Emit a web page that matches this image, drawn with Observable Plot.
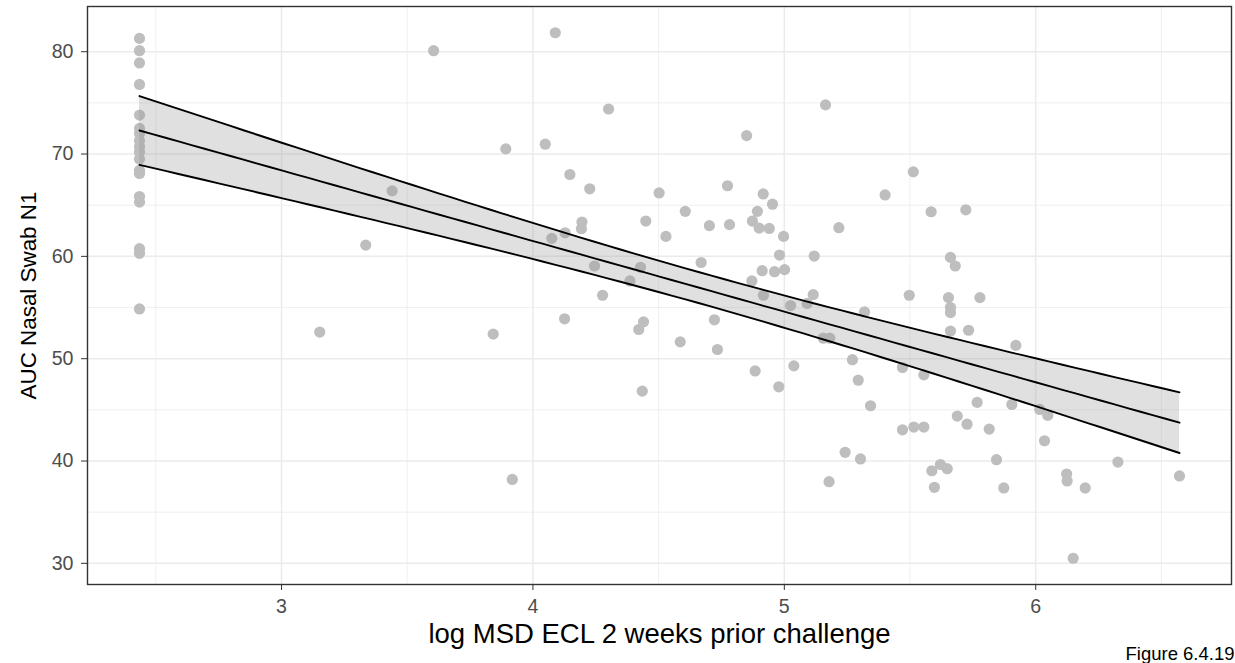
<!DOCTYPE html>
<html>
<head>
<meta charset="utf-8">
<script src="https://cdn.jsdelivr.net/npm/d3@7"></script>
<script src="https://cdn.jsdelivr.net/npm/@observablehq/plot@0.6"></script>
<style>
  html, body { margin: 0; padding: 0; background: #fff; }
  #chart { width: 1235px; height: 663px; overflow: hidden; }
</style>
</head>
<body>
<div id="chart"></div>
<script>
// log MSD ECL 2 weeks prior challenge (x) and AUC Nasal Swab N1 (y)
const xValues = [
  2.435, 2.435, 2.435, 2.435, 2.435, 2.435, 2.435, 2.435, 2.435,
  2.435, 2.435, 2.435, 2.435, 2.435, 2.435, 2.435, 2.435, 2.435,
  3.605, 3.44, 3.335, 3.152, 3.842, 4.089, 4.301, 3.892, 4.049, 4.850,
  5.164, 4.147, 4.226, 4.502, 4.774, 4.916, 4.953, 4.893, 4.606, 4.195,
  4.193, 4.128, 4.075, 4.449, 4.529, 4.702, 4.782, 4.873, 4.900, 4.940,
  4.997, 5.217, 4.245, 4.428, 4.386, 4.669, 4.981, 5.119, 4.912, 4.961,
  5.001, 4.871, 4.277, 4.917, 5.115, 5.025, 5.091, 4.126, 4.440, 4.421,
  4.586, 4.722, 4.734, 5.155, 5.181, 5.271, 5.294, 5.038, 4.884, 4.978,
  4.435, 3.918, 5.242, 5.303, 5.178, 5.513, 5.401, 5.584, 5.722, 5.661,
  5.680, 5.497, 5.653, 5.778, 5.661, 5.661, 5.319, 5.661, 5.733, 5.921,
  5.470, 5.555, 5.343, 5.767, 5.905, 6.016, 6.048, 5.688, 5.727, 5.815,
  5.470, 5.515, 5.555, 6.035, 5.844, 5.587, 5.621, 5.648, 6.327, 6.123,
  6.125, 6.197, 6.572, 5.597, 5.873, 6.149
];
const yValues = [
  81.3, 80.1, 78.9, 76.8, 73.8, 72.5, 72.0, 71.3, 70.7,
  70.2, 69.5, 68.4, 68.1, 65.85, 65.3, 60.75, 60.3, 54.86,
  80.1, 66.4, 61.1, 52.6, 52.4, 81.85, 74.4, 70.5, 70.96, 71.8,
  74.8, 68.0, 66.6, 66.2, 66.9, 66.1, 65.1, 64.4, 64.4, 63.35,
  62.7, 62.3, 61.76, 63.45, 61.95, 63.0, 63.1, 63.45, 62.76, 62.73,
  61.95, 62.8, 59.06, 58.93, 57.6, 59.4, 60.13, 60.03, 58.6, 58.5,
  58.7, 57.6, 56.2, 56.2, 56.26, 55.19, 55.4, 53.9, 53.6, 52.85,
  51.64, 53.8, 50.9, 52.0, 52.0, 49.9, 47.9, 49.3, 48.8, 47.25,
  46.83, 38.2, 40.85, 40.2, 37.98, 68.26, 66.0, 64.36, 64.55, 59.9,
  59.06, 56.2, 55.97, 55.97, 55.0, 54.5, 54.57, 52.7, 52.78, 51.3,
  49.14, 48.42, 45.4, 45.73, 45.53, 45.04, 44.46, 44.39, 43.6, 43.12,
  43.05, 43.32, 43.32, 41.98, 40.13, 39.05, 39.66, 39.25, 39.9, 38.73,
  38.05, 37.37, 38.54, 37.43, 37.37, 30.5
];
const xTicks = [3, 4, 5, 6];
const yTicks = [30, 40, 50, 60, 70, 80];
const xMinor = [2.5, 3.5, 4.5, 5.5, 6.5];
const yMinor = [35, 45, 55, 65, 75];
const xTitle = "log MSD ECL 2 weeks prior challenge";
const yTitle = "AUC Nasal Swab N1";
const captionText = "Figure 6.4.19";

const points = xValues.map((x, i) => ({x, y: yValues[i]}));

// linear model fit with 95% confidence band (as geom_smooth(method = "lm"))
const n = points.length;
const mx = d3.mean(xValues), my = d3.mean(yValues);
const sxx = d3.sum(xValues, x => (x - mx) ** 2);
const sxy = d3.sum(points, p => (p.x - mx) * (p.y - my));
const slope = sxy / sxx;
const intercept = my - slope * mx;
const sse = d3.sum(points, p => (p.y - (intercept + slope * p.x)) ** 2);
const s = Math.sqrt(sse / (n - 2));
const df = n - 2, z = 1.959964;
const tq = z + (z ** 3 + z) / (4 * df) + (5 * z ** 5 + 16 * z ** 3 + 3 * z) / (96 * df * df);
const [xmin, xmax] = d3.extent(xValues);
const fit = d3.range(0, 81).map(i => {
  const x = xmin + (xmax - xmin) * i / 80;
  const yhat = intercept + slope * x;
  const se = s * Math.sqrt(1 / n + (x - mx) ** 2 / sxx);
  return {x, y: yhat, lo: yhat - tq * se, hi: yhat + tq * se};
});

const [ymin, ymax] = d3.extent(yValues);
const xPad = 0.05 * (xmax - xmin), yPad = 0.05 * (ymax - ymin);

const chart = Plot.plot({
  width: 1235,
  height: 663,
  marginLeft: 87,
  marginRight: 4,
  marginTop: 6,
  marginBottom: 79,
  style: {fontFamily: "'Liberation Sans', Arial, Helvetica, sans-serif", background: "#fff"},
  x: {domain: [xmin - xPad, xmax + xPad]},
  y: {domain: [ymin - yPad, ymax + yPad]},
  marks: [
    Plot.ruleX(xMinor, {stroke: "#ebebeb", strokeWidth: 0.8}),
    Plot.ruleY(yMinor, {stroke: "#ebebeb", strokeWidth: 0.8}),
    Plot.ruleX(xTicks, {stroke: "#ebebeb", strokeWidth: 1.5}),
    Plot.ruleY(yTicks, {stroke: "#ebebeb", strokeWidth: 1.5}),
    Plot.dot(points, {x: "x", y: "y", r: 5.6, fill: "#bebebe", stroke: "none"}),
    Plot.areaY(fit, {x: "x", y1: "lo", y2: "hi", fill: "#999999", fillOpacity: 0.3}),
    Plot.line(fit, {x: "x", y: "hi", stroke: "black", strokeWidth: 1.9}),
    Plot.line(fit, {x: "x", y: "y", stroke: "black", strokeWidth: 1.9}),
    Plot.line(fit, {x: "x", y: "lo", stroke: "black", strokeWidth: 1.9}),
    Plot.frame({stroke: "#333333", strokeWidth: 1.4}),
    Plot.axisX({ticks: xTicks, tickSize: 6, tickPadding: 9, fontSize: 19.6, color: "#4d4d4d", stroke: "#333333", label: null, tickFormat: d => d}),
    Plot.axisY({ticks: yTicks, tickSize: 6, tickPadding: 8, fontSize: 19.6, color: "#4d4d4d", stroke: "#333333", label: null, tickFormat: d => d}),
    Plot.text([xTitle], {frameAnchor: "bottom", lineAnchor: "middle", dy: 50, fontSize: 27.5, fill: "black"}),
    Plot.text([yTitle], {frameAnchor: "left", textAnchor: "middle", lineAnchor: "middle", dx: -59, rotate: -90, fontSize: 22.4, fill: "black"}),
    Plot.text([captionText], {frameAnchor: "bottom-right", textAnchor: "end", lineAnchor: "middle", dx: 3, dy: 70, fontSize: 18.5, fill: "black"})
  ]
});
document.getElementById("chart").appendChild(chart);
</script>
</body>
</html>
